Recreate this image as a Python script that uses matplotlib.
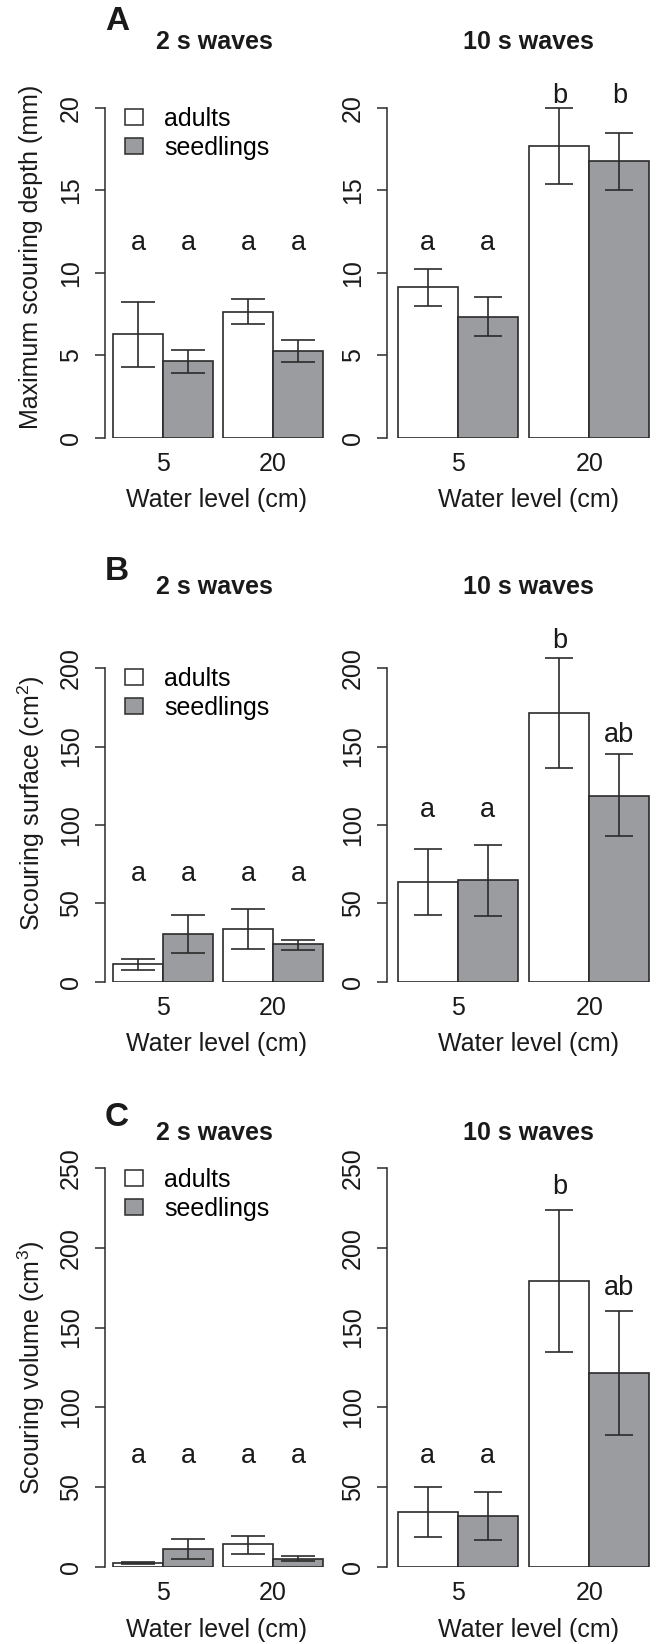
import matplotlib
matplotlib.use('Agg')
import matplotlib.pyplot as plt
from matplotlib.patches import Patch

plt.rcParams['font.family'] = ['Liberation Sans', 'DejaVu Sans']
plt.rcParams['mathtext.fontset'] = 'custom'
plt.rcParams['mathtext.rm'] = 'Liberation Sans'
plt.rcParams['mathtext.it'] = 'Liberation Sans'

levels = ['5', '20']

# A: maximum scouring depth (mm)
depth_2s_adults = [6.3, 7.65]
depth_2s_adults_lo = [4.3, 6.9]
depth_2s_adults_hi = [8.25, 8.42]
depth_2s_seed = [4.67, 5.3]
depth_2s_seed_lo = [3.94, 4.62]
depth_2s_seed_hi = [5.33, 5.94]
depth_10s_adults = [9.15, 17.72]
depth_10s_adults_lo = [8.02, 15.39]
depth_10s_adults_hi = [10.24, 20.0]
depth_10s_seed = [7.33, 16.79]
depth_10s_seed_lo = [6.16, 15.05]
depth_10s_seed_hi = [8.53, 18.46]

# B: scouring surface (cm2)
surf_2s_adults = [11.2, 33.9]
surf_2s_adults_lo = [7.4, 21.2]
surf_2s_adults_hi = [14.8, 46.6]
surf_2s_seed = [30.7, 23.9]
surf_2s_seed_lo = [18.6, 20.5]
surf_2s_seed_hi = [42.5, 26.9]
surf_10s_adults = [64.0, 171.6]
surf_10s_adults_lo = [42.8, 136.5]
surf_10s_adults_hi = [84.5, 206.6]
surf_10s_seed = [65.0, 118.7]
surf_10s_seed_lo = [41.9, 93.0]
surf_10s_seed_hi = [87.5, 145.0]

# C: scouring volume (cm3)
vol_2s_adults = [2.5, 14.2]
vol_2s_adults_lo = [1.8, 8.4]
vol_2s_adults_hi = [3.4, 19.5]
vol_2s_seed = [11.5, 5.2]
vol_2s_seed_lo = [5.2, 3.8]
vol_2s_seed_hi = [17.6, 7.1]
vol_10s_adults = [34.3, 178.9]
vol_10s_adults_lo = [18.6, 134.9]
vol_10s_adults_hi = [50.2, 223.6]
vol_10s_seed = [31.8, 121.8]
vol_10s_seed_lo = [16.9, 82.8]
vol_10s_seed_hi = [46.7, 160.7]

# significance letters (adults 5, seedlings 5, adults 20, seedlings 20) and baselines
letters_2s = ['a', 'a', 'a', 'a']
letters_A10 = ['a', 'a', 'b', 'b']
letters_B10 = ['a', 'a', 'b', 'ab']
letters_C10 = ['a', 'a', 'b', 'ab']
ypos_A2 = [11.4, 11.4, 11.4, 11.4]
ypos_A10 = [11.4, 11.4, 20.3, 20.3]
ypos_B2 = [64.5, 64.5, 64.5, 64.5]
ypos_B10 = [104.8, 104.8, 212.8, 153.0]
ypos_C2 = [64.9, 64.9, 64.9, 64.9]
ypos_C10 = [64.9, 64.9, 233.9, 170.5]

W, H = 660, 1644
GREY = '#9b9c9f'
DARK = '#2b2b2b'
TXT = '#1a1a1a'
FS = 18

fig = plt.figure(figsize=(W / 100, H / 100), dpi=100)


def px_axes(left, top, right, bottom):
    return fig.add_axes([left / W, 1 - bottom / H, (right - left) / W, (bottom - top) / H])


def panel(ax, ad, ad_lo, ad_hi, sd, sd_lo, sd_hi, ymax, step, xmin, cap, letters, ypos):
    x_ad = [0.7, 2.9]
    x_sd = [1.7, 3.9]
    ax.bar(x_ad, ad, width=1.0, color='white', edgecolor=DARK, linewidth=1.2)
    ax.bar(x_sd, sd, width=1.0, color=GREY, edgecolor=DARK, linewidth=1.2)
    ax.errorbar(x_ad, ad, yerr=[[m - l for m, l in zip(ad, ad_lo)], [h - m for m, h in zip(ad, ad_hi)]],
                fmt='none', ecolor=DARK, elinewidth=1.2, capsize=cap, capthick=1.2, clip_on=False)
    ax.errorbar(x_sd, sd, yerr=[[m - l for m, l in zip(sd, sd_lo)], [h - m for m, h in zip(sd, sd_hi)]],
                fmt='none', ecolor=DARK, elinewidth=1.2, capsize=cap, capthick=1.2, clip_on=False)
    xs = [x_ad[0], x_sd[0], x_ad[1], x_sd[1]]
    for x, t, y in zip(xs, letters, ypos):
        ax.text(x, y, t, ha='center', va='baseline', fontsize=19.5, color=TXT)
    ax.set_xlim(xmin, 4.4 + (0.2 - xmin))
    ax.set_ylim(0, ymax)
    ax.set_xticks([1.2, 3.4])
    ax.set_xticklabels(levels)
    ax.set_yticks(range(0, ymax + 1, step))
    for s in ['top', 'right', 'bottom']:
        ax.spines[s].set_visible(False)
    ax.spines['left'].set_bounds(0, ymax)
    ax.spines['left'].set_color(DARK)
    ax.spines['left'].set_linewidth(1.1)
    ax.tick_params(axis='x', length=0, pad=10, labelsize=FS, colors=TXT)
    ax.tick_params(axis='y', length=7, width=1.1, pad=9, labelsize=FS, color=DARK, labelcolor=TXT)
    plt.setp(ax.get_yticklabels(), rotation=90, va='center')
    ax.patch.set_visible(False)


def add_legend(ax, top):
    handles = [Patch(facecolor='white', edgecolor=DARK, linewidth=1.1),
               Patch(facecolor=GREY, edgecolor=DARK, linewidth=1.1)]
    ax.legend(handles, ['adults', 'seedlings'], loc='upper left', frameon=False,
              bbox_to_anchor=(125 / W, 1 - top / H), bbox_transform=fig.transFigure,
              fontsize=FS, handlelength=0.72, handleheight=0.6, handletextpad=0.85,
              labelspacing=0.2, borderpad=0, borderaxespad=0)


rows = [
    # ylabel, ylabel centre, letter, letter y, title y, xlabel y
    ('Maximum scouring depth (mm)', 257, 'A', 22, 42, 500),
    (r'Scouring surface (cm$^{2}$)', 803, 'B', 572, 587, 1044),
    (r'Scouring volume (cm$^{3}$)', 1368, 'C', 1117, 1133, 1630),
]

axA2 = px_axes(105, 108, 331, 438)
axA10 = px_axes(387, 108, 660, 438)
axB2 = px_axes(105, 668, 331, 982)
axB10 = px_axes(387, 668, 660, 982)
axC2 = px_axes(105, 1168, 331, 1567)
axC10 = px_axes(387, 1168, 660, 1567)

panel(axA2, depth_2s_adults, depth_2s_adults_lo, depth_2s_adults_hi,
      depth_2s_seed, depth_2s_seed_lo, depth_2s_seed_hi, 20, 5, 0.04, 12.5, letters_2s, ypos_A2)
panel(axA10, depth_10s_adults, depth_10s_adults_lo, depth_10s_adults_hi,
      depth_10s_seed, depth_10s_seed_lo, depth_10s_seed_hi, 20, 5, 0.024, 10.3, letters_A10, ypos_A10)
panel(axB2, surf_2s_adults, surf_2s_adults_lo, surf_2s_adults_hi,
      surf_2s_seed, surf_2s_seed_lo, surf_2s_seed_hi, 200, 50, 0.04, 12.5, letters_2s, ypos_B2)
panel(axB10, surf_10s_adults, surf_10s_adults_lo, surf_10s_adults_hi,
      surf_10s_seed, surf_10s_seed_lo, surf_10s_seed_hi, 200, 50, 0.024, 10.3, letters_B10, ypos_B10)
panel(axC2, vol_2s_adults, vol_2s_adults_lo, vol_2s_adults_hi,
      vol_2s_seed, vol_2s_seed_lo, vol_2s_seed_hi, 250, 50, 0.04, 12.5, letters_2s, ypos_C2)
panel(axC10, vol_10s_adults, vol_10s_adults_lo, vol_10s_adults_hi,
      vol_10s_seed, vol_10s_seed_lo, vol_10s_seed_hi, 250, 50, 0.024, 10.3, letters_C10, ypos_C10)

add_legend(axA2, 107)
add_legend(axB2, 667)
add_legend(axC2, 1168)

for (ax2, ax10), (ylab, ylab_y, letter, let_y, tit_y, xl_y) in zip(
        [(axA2, axA10), (axB2, axB10), (axC2, axC10)], rows):
    ax2.set_ylabel(ylab, fontsize=FS, color=TXT)
    ax2.yaxis.set_label_coords(31 / W, 1 - ylab_y / H, transform=fig.transFigure)
    ax2.yaxis.label.set_va('center')
    fig.text(117 / W, 1 - let_y / H, letter, ha='center', va='center',
             fontsize=24, fontweight='bold', color=TXT)
    fig.text(214 / W, 1 - tit_y / H, '2 s waves', ha='center', va='center',
             fontsize=18, fontweight='bold', color=TXT)
    fig.text(528 / W, 1 - tit_y / H, '10 s waves', ha='center', va='center',
             fontsize=18, fontweight='bold', color=TXT)
    fig.text(217 / W, 1 - xl_y / H, 'Water level (cm)', ha='center', va='center',
             fontsize=FS, color=TXT)
    fig.text(528 / W, 1 - xl_y / H, 'Water level (cm)', ha='center', va='center',
             fontsize=FS, color=TXT)

fig.savefig('out.png', dpi=100)
